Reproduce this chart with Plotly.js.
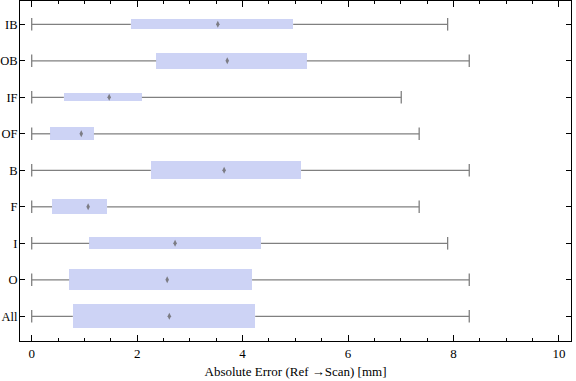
<!DOCTYPE html>
<html>
<head>
<meta charset="utf-8">
<script src="https://cdn.plot.ly/plotly-3.0.1.min.js"></script>
<style>html,body{margin:0;padding:0;background:#fff;}#chart{width:576px;height:381px;}</style>
</head>
<body>
<div id="chart"></div>
<script>
// Categories listed bottom to top
const categories = ["All", "O", "I", "F", "B", "OF", "IF", "OB", "IB"];
const minVals    = [0, 0, 0, 0, 0, 0, 0, 0, 0];
const q1Vals     = [0.78, 0.71, 1.09, 0.385, 2.26, 0.35, 0.61, 2.36, 1.88];
const medianVals = [2.61, 2.57, 2.72, 1.07, 3.65, 0.94, 1.47, 3.71, 3.53];
const q3Vals     = [4.24, 4.18, 4.35, 1.43, 5.11, 1.18, 2.09, 5.22, 4.96];
const maxVals    = [8.30, 8.30, 7.89, 7.35, 8.30, 7.35, 7.01, 8.30, 7.89];
// relative box weights (box thickness in chart)
const boxWeights = [0.66, 0.575, 0.33, 0.40, 0.493, 0.356, 0.219, 0.438, 0.274];

const yIdx = categories.map((c, i) => i);

// whisker segments: min->q1 and q3->max
const wx = [], wy = [];
const capX = [], capY = [];
categories.forEach((c, i) => {
  wx.push(minVals[i], q1Vals[i], null, q3Vals[i], maxVals[i], null);
  wy.push(i, i, null, i, i, null);
  capX.push(minVals[i], maxVals[i]);
  capY.push(i, i);
});

const gray = "#808080";
const traces = [
  {
    type: "bar", orientation: "h",
    y: yIdx, base: q1Vals,
    x: q3Vals.map((v, i) => v - q1Vals[i]),
    width: boxWeights,
    marker: {color: "#cdd3f5", line: {width: 0}},
    hoverinfo: "skip"
  },
  {
    type: "scatter", mode: "lines",
    x: wx, y: wy,
    line: {color: gray, width: 1.3},
    hoverinfo: "skip"
  },
  {
    type: "scatter", mode: "markers",
    x: capX, y: capY,
    marker: {symbol: "line-ns", size: 9, line: {color: gray, width: 1.3}},
    hoverinfo: "skip"
  },
  {
    type: "scatter", mode: "markers",
    x: medianVals, y: yIdx,
    marker: {symbol: "diamond-tall", size: 5, color: "#7c7c84"},
    hoverinfo: "skip"
  }
];

const layout = {
  width: 576, height: 381,
  margin: {l: 20, r: 5, t: 1, b: 40},
  paper_bgcolor: "#fff", plot_bgcolor: "#fff",
  showlegend: false,
  font: {family: "Liberation Serif, Times New Roman, serif", size: 13, color: "#000"},
  bargap: 0,
  xaxis: {
    range: [-0.222, 10.23],
    tickvals: [0, 2, 4, 6, 8, 10],
    ticks: "inside", ticklen: 6, tickwidth: 1, tickcolor: "#000",
    minor: {dtick: 0.5, tick0: 0, ticks: "inside", ticklen: 3, tickcolor: "#000"},
    showgrid: false, zeroline: false,
    showline: true, linecolor: "#000", linewidth: 1, mirror: "ticks",
    title: {text: "Absolute Error (Ref \u2192Scan) [mm]", font: {size: 13}, standoff: 7},
    tickfont: {size: 13}
  },
  yaxis: {
    range: [-0.677, 8.638],
    tickvals: yIdx, ticktext: categories,
    ticks: "inside", ticklen: 5, tickwidth: 1, tickcolor: "#000",
    showgrid: false, zeroline: false,
    showline: true, linecolor: "#000", linewidth: 1, mirror: "ticks",
    tickfont: {size: 12.5},
    ticklabelstandoff: -1
  }
};

Plotly.newPlot("chart", traces, layout, {staticPlot: true, displayModeBar: false});
</script>
</body>
</html>
